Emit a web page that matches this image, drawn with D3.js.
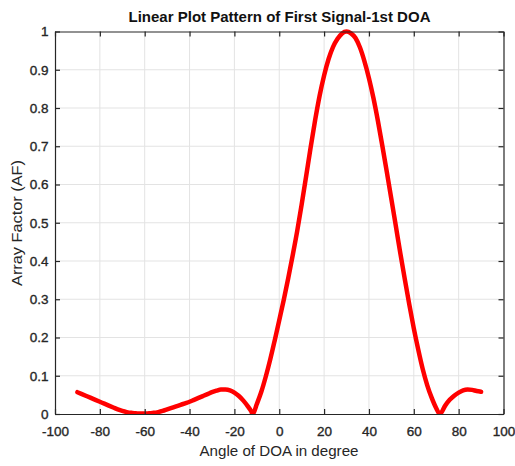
<!DOCTYPE html>
<html>
<head>
<meta charset="utf-8">
<script src="https://cdn.jsdelivr.net/npm/d3@7/dist/d3.min.js"></script>
<style>
  html, body { margin: 0; padding: 0; background: #fff; }
  svg { display: block; font-family: "Liberation Sans", Arial, Helvetica, sans-serif; }
</style>
</head>
<body>
<svg id="chart" width="515" height="466"></svg>
<script>
// ---- data ----
const angles = [-90,-88,-86,-84,-82,-80,-78,-76,-74,-72,-70,-68,-66,-64,-62,-60,-58,-56,-54,-52,-50,-48,-46,-44,-42,-40,-38,-36,-34,-32,-30,-28,-26,-24,-22,-20,-18,-16,-14,-12.6,-11.8,-10,-8,-6,-4,-2,0,2,4,6,8,10,12,14,16,18,20,22,24,26,28,30,32,34,36,38,40,42,44,46,48,50,52,54,56,58,60,62,64,66,68,70,71.6,74,76,78,80,82,84,86,88,90];
const afValues = [0.057,0.052,0.047,0.042,0.037,0.032,0.027,0.022,0.017,0.012,0.008,0.005,0.003,0.002,0.001,0.001,0.002,0.003,0.005,0.008,0.012,0.016,0.020,0.024,0.028,0.032,0.037,0.042,0.047,0.052,0.057,0.061,0.064,0.064,0.062,0.056,0.047,0.035,0.020,0.008,0.0,0.026,0.058,0.098,0.143,0.193,0.245,0.298,0.355,0.415,0.478,0.548,0.622,0.697,0.768,0.832,0.885,0.928,0.960,0.981,0.995,1.0,0.995,0.983,0.958,0.922,0.878,0.826,0.766,0.700,0.632,0.562,0.491,0.420,0.352,0.286,0.224,0.168,0.117,0.075,0.042,0.015,0.0,0.022,0.037,0.048,0.056,0.062,0.064,0.063,0.060,0.058];
const xTicks = [-100,-80,-60,-40,-20,0,20,40,60,80,100];
const yTicks = [0,0.1,0.2,0.3,0.4,0.5,0.6,0.7,0.8,0.9,1];
const titleText = "Linear Plot Pattern of First Signal-1st DOA";
const xLabelText = "Angle of DOA in degree";
const yLabelText = "Array Factor (AF)";

// ---- layout ----
const svg = d3.select("#chart");
const pL = 55, pR = 503.5, pT = 31.5, pB = 414;
const x = d3.scaleLinear().domain([-100, 100]).range([pL, pR]);
const y = d3.scaleLinear().domain([0, 1]).range([pB, pT]);
const axisColor = "#262626";
const gridColor = "#e3e3e3";
const tickLen = 5;

// grid
const grid = svg.append("g");
grid.selectAll("line.gx").data(xTicks.slice(1, -1)).enter().append("line")
  .attr("x1", d => x(d)).attr("x2", d => x(d)).attr("y1", pT).attr("y2", pB)
  .attr("stroke", gridColor).attr("stroke-width", 1);
grid.selectAll("line.gy").data(yTicks.slice(1, -1)).enter().append("line")
  .attr("y1", d => y(d)).attr("y2", d => y(d)).attr("x1", pL).attr("x2", pR)
  .attr("stroke", gridColor).attr("stroke-width", 1);

// curve
svg.append("defs").append("clipPath").attr("id", "clip")
  .append("rect").attr("x", pL).attr("y", pT - 4).attr("width", pR - pL).attr("height", pB - pT + 4);
const pts = angles.map((a, i) => [a, afValues[i]]);
const line = d3.line().x(d => x(d[0])).y(d => y(d[1])).curve(d3.curveMonotoneX);
svg.append("path").datum(pts)
  .attr("d", line)
  .attr("fill", "none").attr("stroke", "#ff0000")
  .attr("stroke-width", 4.5).attr("stroke-linejoin", "round").attr("stroke-linecap", "round")
  .attr("clip-path", "url(#clip)");

// axes (box with inward ticks)
const fontSize = 13.5;
const xAxisB = d3.axisBottom(x).tickValues(xTicks).tickSizeInner(-tickLen).tickSizeOuter(0).tickPadding(12.5).tickFormat(d => String(d));
const xAxisT = d3.axisTop(x).tickValues(xTicks).tickSizeInner(-tickLen).tickSizeOuter(0).tickFormat("");
const yAxisL = d3.axisLeft(y).tickValues(yTicks).tickSizeInner(-tickLen).tickSizeOuter(0).tickPadding(6.5).tickFormat(d => d === 0 ? "0" : d === 1 ? "1" : d3.format(".1f")(d));
const yAxisR = d3.axisRight(y).tickValues(yTicks).tickSizeInner(-tickLen).tickSizeOuter(0).tickFormat("");

function style(g) {
  g.select(".domain").attr("stroke", axisColor).attr("stroke-width", 1.2);
  g.selectAll(".tick line").attr("stroke", axisColor).attr("stroke-width", 1.2);
  g.selectAll(".tick text").attr("fill", axisColor).attr("font-size", fontSize)
    .attr("stroke", axisColor).attr("stroke-width", 0.35)
    .attr("font-family", "'Liberation Sans', Arial, sans-serif");
}
svg.append("g").attr("transform", `translate(0,${pB})`).call(xAxisB).call(style);
svg.append("g").attr("transform", `translate(0,${pT})`).call(xAxisT).call(style);
svg.append("g").attr("transform", `translate(${pL},0)`).call(yAxisL).call(style);
svg.append("g").attr("transform", `translate(${pR},0)`).call(yAxisR).call(style);

// title
svg.append("text").attr("x", 279.5).attr("y", 22).attr("text-anchor", "middle")
  .attr("font-size", 15).attr("font-weight", "bold").attr("fill", "#111")
  .attr("textLength", 302).attr("lengthAdjust", "spacingAndGlyphs")
  .text(titleText);

// x label
svg.append("text").attr("x", 279).attr("y", 456).attr("text-anchor", "middle")
  .attr("font-size", 15).attr("fill", axisColor)
  .attr("textLength", 159).attr("lengthAdjust", "spacingAndGlyphs")
  .text(xLabelText);

// y label
svg.append("text").attr("transform", `translate(22,223) rotate(-90)`).attr("text-anchor", "middle")
  .attr("font-size", 15).attr("fill", axisColor)
  .attr("textLength", 126).attr("lengthAdjust", "spacingAndGlyphs")
  .text(yLabelText);
</script>
</body>
</html>
